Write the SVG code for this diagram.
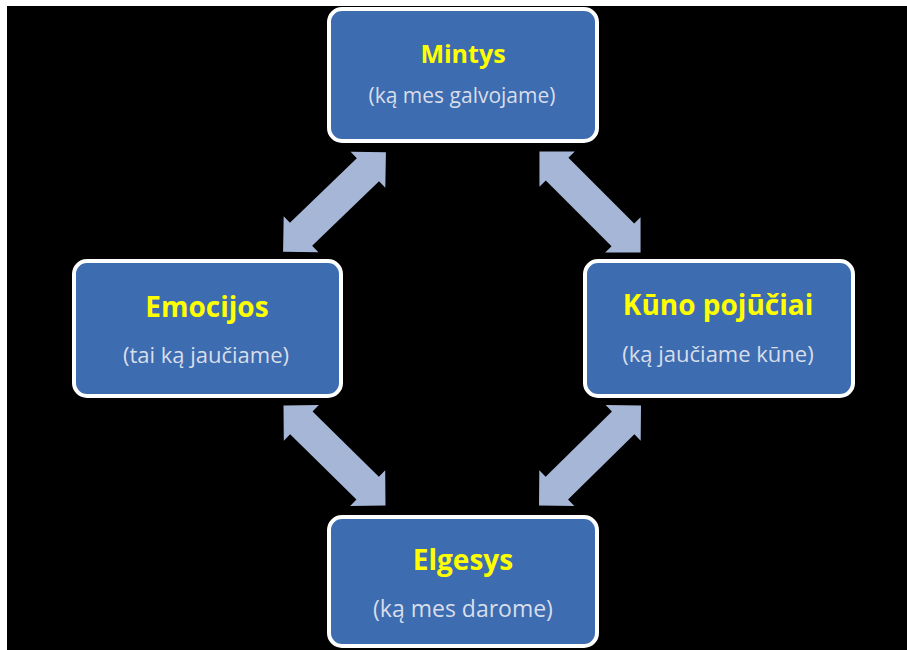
<svg xmlns="http://www.w3.org/2000/svg" width="907" height="650" viewBox="0 0 907 650">
<defs>
<style>
.box{fill:#3d6cb0;stroke:#ffffff;stroke-width:4}
.title{font-family:"Open Sans","Liberation Sans",sans-serif;font-weight:bold;fill:#ffff00;text-anchor:middle}
.sub{font-family:"Open Sans","Liberation Sans",sans-serif;fill:#d8deea;text-anchor:middle}
.arr{fill:#a6b6d6}
</style>
<polygon id="dblarrow" class="arr" points="0,0 25,-25 25,-16 118,-16 118,-25 143,0 118,25 118,16 25,16 25,25" transform="translate(-71.5,0)"/>
</defs>
<rect x="0" y="0" width="907" height="650" fill="#ffffff"/>
<rect x="7" y="6" width="900" height="644" fill="#000000"/>
<g id="connectors">
<use href="#dblarrow" transform="translate(334.5,202) rotate(-44)"/>
<use href="#dblarrow" transform="translate(590,202) rotate(45)"/>
<use href="#dblarrow" transform="translate(334.5,455.5) rotate(44.5)"/>
<use href="#dblarrow" transform="translate(590,455.5) rotate(-44.5)"/>
</g>
<g id="mintys">
<rect class="box" x="329" y="9" width="268" height="132" rx="13"/>
<text class="title" x="463" y="63" font-size="25">Mintys</text>
<text class="sub" x="462" y="103" font-size="21">(ką mes galvojame)</text>
</g>
<g id="emocijos">
<rect class="box" x="74" y="261" width="267" height="135" rx="13"/>
<text class="title" x="207" y="317" font-size="28">Emocijos</text>
<text class="sub" x="206" y="363" font-size="22">(tai ką jaučiame)</text>
</g>
<g id="kuno">
<rect class="box" x="585" y="261" width="268" height="135" rx="13"/>
<text class="title" x="718" y="315" font-size="28">Kūno pojūčiai</text>
<text class="sub" x="718" y="362" font-size="22">(ką jaučiame kūne)</text>
</g>
<g id="elgesys">
<rect class="box" x="329" y="517" width="268" height="129" rx="13"/>
<text class="title" x="463" y="570" font-size="28">Elgesys</text>
<text class="sub" x="463" y="617" font-size="23">(ką mes darome)</text>
</g>
</svg>
